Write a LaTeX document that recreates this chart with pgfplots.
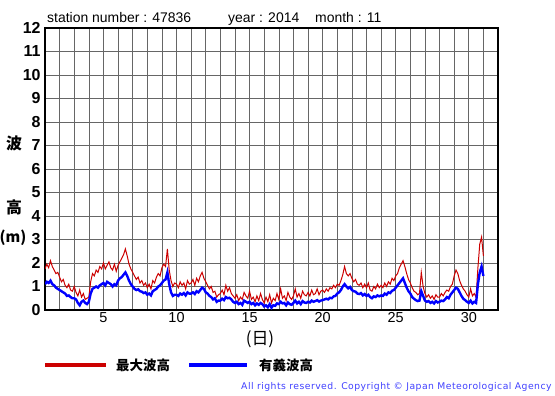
\documentclass[border=0pt]{standalone}
\usepackage{pgfplots}
\pgfplotsset{compat=1.18}
\usepackage{pgfplotstable}
\usepackage{fontspec}
\setmainfont{Liberation Sans}
\newfontfamily\jp{Noto Sans CJK JP}
\newfontfamily\cpfont[LetterSpace=5]{DejaVu Sans}
\definecolor{maxred}{RGB}{204,0,0}
\definecolor{sigblue}{RGB}{0,0,255}
\definecolor{copyblue}{RGB}{64,64,255}

\pgfplotstableread{
x r b
1.000 1.75 1.10
1.125 1.95 1.20
1.250 1.80 1.15
1.375 2.10 1.25
1.500 1.85 1.10
1.625 1.70 1.05
1.750 1.55 0.95
1.875 1.60 0.90
2.000 1.40 0.85
2.125 1.20 0.80
2.250 1.30 0.75
2.375 1.05 0.70
2.500 0.95 0.60
2.625 1.10 0.62
2.750 0.85 0.55
2.875 0.80 0.50
3.000 1.00 0.50
3.125 0.75 0.45
3.250 0.60 0.30
3.375 0.85 0.20
3.500 0.55 0.35
3.625 0.70 0.40
3.750 0.45 0.30
3.875 0.50 0.25
4.000 0.55 0.35
4.125 1.20 0.70
4.250 1.55 0.90
4.375 1.45 0.95
4.500 1.70 1.00
4.625 1.60 0.95
4.750 1.85 1.05
4.875 1.75 1.10
5.000 2.00 1.15
5.125 1.75 1.05
5.250 1.90 1.20
5.375 2.05 1.15
5.500 1.80 1.10
5.625 1.70 1.00
5.750 1.95 1.10
5.875 1.65 1.05
6.000 1.90 1.25
6.125 2.05 1.35
6.250 2.20 1.40
6.375 2.35 1.50
6.500 2.60 1.60
6.625 2.30 1.45
6.750 1.95 1.25
6.875 1.75 1.10
7.000 1.60 1.00
7.125 1.45 0.90
7.250 1.30 0.85
7.375 1.40 0.88
7.500 1.15 0.80
7.625 1.25 0.78
7.750 1.05 0.72
7.875 1.15 0.75
8.000 0.95 0.65
8.125 1.10 0.70
8.250 0.90 0.62
8.375 1.25 0.80
8.500 1.15 0.85
8.625 1.40 0.90
8.750 1.55 1.00
8.875 1.45 1.05
9.000 1.80 1.15
9.125 1.95 1.25
9.250 1.85 1.30
9.375 2.60 1.60
9.500 1.70 1.10
9.625 1.25 0.75
9.750 1.00 0.60
9.875 1.15 0.65
10.000 1.10 0.65
10.125 0.95 0.60
10.250 1.20 0.70
10.375 1.05 0.65
10.500 1.15 0.72
10.625 0.90 0.62
10.750 1.25 0.75
10.875 1.10 0.70
11.000 1.15 0.70
11.125 1.30 0.75
11.250 1.05 0.68
11.375 1.35 0.80
11.500 1.20 0.75
11.625 1.45 0.85
11.750 1.60 0.95
11.875 1.35 0.90
12.000 1.20 0.75
12.125 1.05 0.70
12.250 0.90 0.60
12.375 1.00 0.55
12.500 0.75 0.45
12.625 0.80 0.50
12.750 0.55 0.35
12.875 0.65 0.40
13.000 0.70 0.40
13.125 0.85 0.48
13.250 0.65 0.42
13.375 1.05 0.55
13.500 0.80 0.50
13.625 0.95 0.52
13.750 0.70 0.45
13.875 0.60 0.35
14.000 0.50 0.30
14.125 0.65 0.35
14.250 0.40 0.25
14.375 0.55 0.30
14.500 0.45 0.22
14.625 0.75 0.40
14.750 0.60 0.35
14.875 0.50 0.30
15.000 0.80 0.35
15.125 0.45 0.25
15.250 0.55 0.30
15.375 0.35 0.20
15.500 0.60 0.28
15.625 0.40 0.22
15.750 0.70 0.30
15.875 0.45 0.25
16.000 0.30 0.15
16.125 0.55 0.20
16.250 0.35 0.12
16.375 0.65 0.25
16.500 0.30 0.10
16.625 0.50 0.20
16.750 0.40 0.18
16.875 0.70 0.28
17.000 0.45 0.25
17.125 0.90 0.35
17.250 0.50 0.28
17.375 0.60 0.30
17.500 0.40 0.20
17.625 0.75 0.32
17.750 0.55 0.25
17.875 0.45 0.22
18.000 0.60 0.30
18.125 0.90 0.40
18.250 0.55 0.28
18.375 0.70 0.35
18.500 0.50 0.25
18.625 0.80 0.38
18.750 0.65 0.32
18.875 0.60 0.30
19.000 0.75 0.35
19.125 0.60 0.32
19.250 0.85 0.40
19.375 0.65 0.35
19.500 0.70 0.38
19.625 0.90 0.42
19.750 0.65 0.36
19.875 0.80 0.40
20.000 0.85 0.42
20.125 0.75 0.45
20.250 0.90 0.48
20.375 0.80 0.45
20.500 0.95 0.52
20.625 0.90 0.50
20.750 1.05 0.58
20.875 0.95 0.60
21.000 1.10 0.70
21.125 1.05 0.75
21.250 1.25 0.85
21.375 1.50 1.00
21.500 1.85 1.10
21.625 1.55 1.00
21.750 1.45 0.92
21.875 1.55 0.98
22.000 1.35 0.85
22.125 1.20 0.80
22.250 1.30 0.78
22.375 1.10 0.70
22.500 1.05 0.68
22.625 1.15 0.72
22.750 0.95 0.62
22.875 1.10 0.68
23.000 0.95 0.60
23.125 1.15 0.65
23.250 0.85 0.55
23.375 0.80 0.50
23.500 1.00 0.58
23.625 0.90 0.55
23.750 1.10 0.62
23.875 0.95 0.58
24.000 1.05 0.62
24.125 0.95 0.60
24.250 1.15 0.70
24.375 1.00 0.65
24.500 1.20 0.75
24.625 1.10 0.72
24.750 1.35 0.82
24.875 1.25 0.85
25.000 1.45 0.95
25.125 1.55 1.05
25.250 1.80 1.15
25.375 1.95 1.25
25.500 2.10 1.35
25.625 1.85 1.15
25.750 1.55 0.95
25.875 1.30 0.80
26.000 1.15 0.70
26.125 0.95 0.55
26.250 0.80 0.48
26.375 0.75 0.42
26.500 0.65 0.38
26.625 0.70 0.40
26.750 1.60 0.80
26.875 1.00 0.60
27.000 0.70 0.40
27.125 0.55 0.35
27.250 0.65 0.38
27.375 0.50 0.30
27.500 0.60 0.35
27.625 0.45 0.28
27.750 0.65 0.38
27.875 0.55 0.32
28.000 0.55 0.35
28.125 0.70 0.40
28.250 0.60 0.38
28.375 0.75 0.45
28.500 0.85 0.55
28.625 0.80 0.50
28.750 1.00 0.65
28.875 1.10 0.75
29.000 1.45 0.85
29.125 1.70 0.95
29.250 1.55 0.90
29.375 1.25 0.75
29.500 1.05 0.60
29.625 0.90 0.48
29.750 0.80 0.42
29.875 0.65 0.35
30.000 0.55 0.30
30.125 0.90 0.40
30.250 0.60 0.28
30.375 0.70 0.35
30.500 0.55 0.30
30.625 1.80 1.10
30.750 2.80 1.60
30.875 3.10 1.85
31.000 2.30 1.45
}\wave

\begin{document}
\begin{tikzpicture}[x=1bp,y=1bp]
\path[use as bounding box] (0,0) rectangle (555,395);
\begin{axis}[
  at={(45bp,85bp)}, anchor=south west,
  scale only axis, width=453bp, height=282bp,
  xmin=1, xmax=32, ymin=0, ymax=12,
  xtick={5,10,...,30}, minor xtick={1,...,32},
  ytick={0,...,12},
  grid=both,
  major grid style={black!60, line width=0.6bp},
  minor grid style={black!60, line width=0.6bp},
  axis line style={line width=1.4bp},
  tick style={draw=none},
  /pgf/number format/assume math mode=true,
  yticklabel style={font=\fontsize{16}{16}\selectfont\bfseries, xshift=-1bp},
  xticklabel style={font=\fontsize{14.5}{14.5}\selectfont, yshift=1bp},
]
\addplot[maxred, line width=1bp] table[x=x, y=r] {\wave};
\addplot[sigblue, line width=2.4bp] table[x=x, y=b] {\wave};
\end{axis}
\node[anchor=base west, inner sep=0pt, font=\fontsize{14}{14}\selectfont] at (47,373) {station number : 47836};
\node[anchor=base west, inner sep=0pt, font=\fontsize{14}{14}\selectfont] at (228,373) {year : 2014};
\node[anchor=base west, inner sep=0pt, font=\fontsize{14}{14}\selectfont] at (315,373) {month : 11};
\node[font=\jp\bfseries\fontsize{16}{16}\selectfont] at (14,252) {波};
\node[font=\jp\bfseries\fontsize{16}{16}\selectfont] at (14,188) {高};
\node[font=\jp\bfseries\fontsize{15}{15}\selectfont] at (13,157) {(m)};
\node[font=\jp\fontsize{17}{17}\selectfont] at (260,56) {(日)};
\draw[maxred, line width=3.5bp] (45,30) -- (106,30);
\node[anchor=west, inner sep=0pt, font=\jp\bfseries\fontsize{13.5}{13.5}\selectfont] at (116,30) {最大波高};
\draw[sigblue, line width=3.5bp] (189,30) -- (247,30);
\node[anchor=west, inner sep=0pt, font=\jp\bfseries\fontsize{13.5}{13.5}\selectfont] at (259,30) {有義波高};
\node[anchor=west, inner sep=0pt, text=copyblue, font=\cpfont\fontsize{9.3}{9.3}\selectfont] at (241,8) {All rights reserved. Copyright © Japan Meteorological Agency};
\end{tikzpicture}
\end{document}
